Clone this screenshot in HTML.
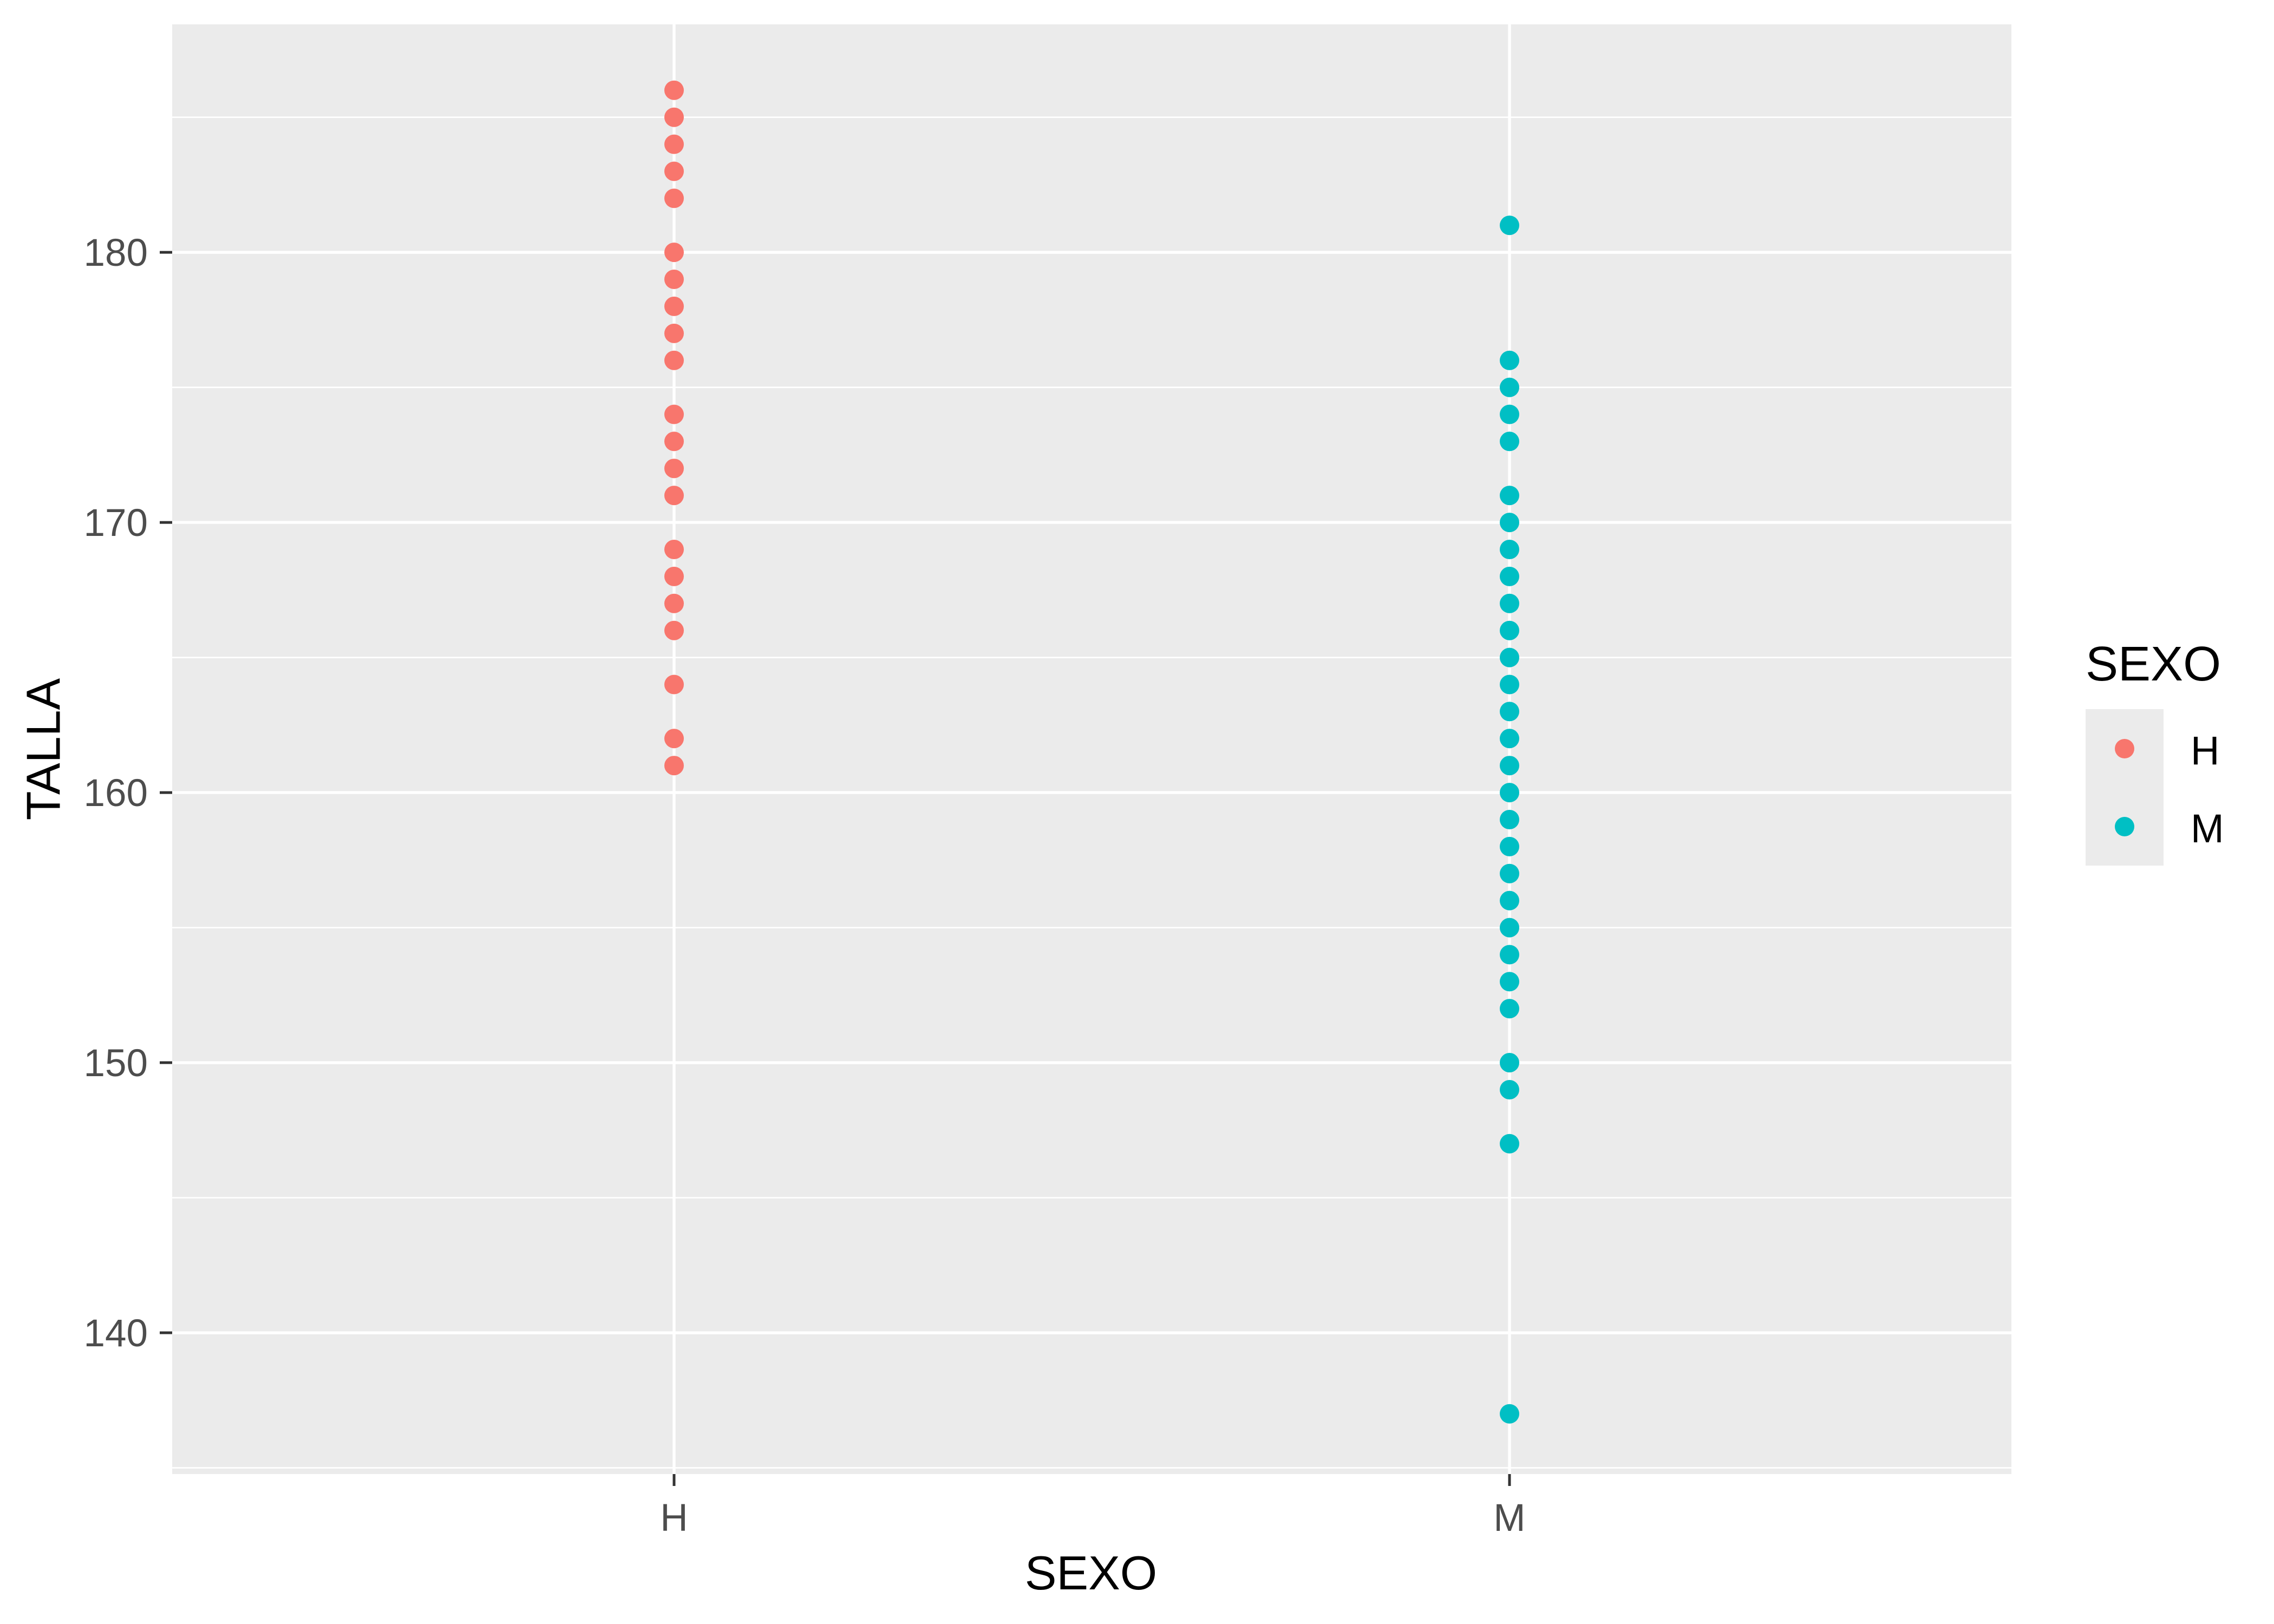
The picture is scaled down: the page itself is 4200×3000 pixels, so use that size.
<!DOCTYPE html>
<html><head><meta charset="utf-8"><style>
html,body{margin:0;padding:0;background:#fff;}
svg{display:block;font-family:"Liberation Sans",Arial,sans-serif;}
</style></head><body>
<svg id="chart" width="4200" height="3000" viewBox="0 0 4200 3000">
<rect x="0" y="0" width="4200" height="3000" fill="#fff"/>
<rect x="318" y="45" width="3397" height="2678" fill="#EBEBEB"/>
<g id="grid"></g>
<g id="points"></g>
<g id="axes"></g>
<text x="80" y="1384" transform="rotate(-90 80 1384)" text-anchor="middle" dominant-baseline="central" font-size="88" fill="#000">TALLA</text>
<text x="2015" y="2936" text-anchor="middle" font-size="88" fill="#000">SEXO</text>
<g>
<text x="3852" y="1257" font-size="90" fill="#000">SEXO</text>
<rect x="3852" y="1310" width="144" height="289" fill="#EBEBEB"/>
<circle cx="3924" cy="1383" r="18" fill="#F8766D"/>
<circle cx="3924" cy="1527" r="18" fill="#00BFC4"/>
<text x="4046" y="1412" font-size="74" fill="#000">H</text>
<text x="4046" y="1556" font-size="74" fill="#000">M</text>
</g>
</svg>
<script>
const categories = ["H", "M"];
const valuesH = [186,185,184,183,182,180,179,178,177,176,174,173,172,171,169,168,167,166,164,162,161];
const valuesM = [181,176,175,174,173,171,170,169,168,167,166,165,164,163,162,161,160,159,158,157,156,155,154,153,152,150,149,147,137];
const yTicks = [140,150,160,170,180];
const yMinor = [135,145,155,165,175,185];
const colors = ["#F8766D", "#00BFC4"];

const NS = "http://www.w3.org/2000/svg";
const pLeft = 318, pRight = 3715, pTop = 45, pBottom = 2723;
const yMin = 134.77, yMax = 188.44;
function yScale(v){ return pBottom - (v - yMin) / (yMax - yMin) * (pBottom - pTop); }
function xScale(c){ const i = categories.indexOf(c); return 1245 + i * (2788 - 1245); }
function mk(tag, attrs, parent){ const e = document.createElementNS(NS, tag); for (const k in attrs) e.setAttribute(k, attrs[k]); parent.appendChild(e); return e; }

const grid = document.getElementById('grid');
yMinor.forEach(v => {
  const l = mk('line', {x1:pLeft, x2:pRight, y1:yScale(v), y2:yScale(v), stroke:'#fff', 'stroke-width':2.7}, grid);
  
  
});
yTicks.forEach(v => {
  const l = mk('line', {x1:pLeft, x2:pRight, y1:yScale(v), y2:yScale(v), stroke:'#fff', 'stroke-width':5.4}, grid);
  
  
});
categories.forEach(c => {
  const l = mk('line', {x1:xScale(c), x2:xScale(c), y1:pTop, y2:pBottom, stroke:'#fff', 'stroke-width':5.4}, grid);
  
  
});

const pts = document.getElementById('points');
[valuesH, valuesM].forEach((arr, si) => {
  arr.forEach(v => {
    const c = mk('circle', {cx:xScale(categories[si]), cy:yScale(v), r:18, fill:colors[si]}, pts);
    
    
  });
});

const axes = document.getElementById('axes');
yTicks.forEach(v => {
  const t = mk('line', {x1:295, x2:pLeft, y1:yScale(v), y2:yScale(v), stroke:'#333', 'stroke-width':5}, axes);
  
  
  const lb = mk('text', {x:273, y:yScale(v) + 25, 'text-anchor':'end', 'font-size':71, fill:'#4D4D4D'}, axes);
  lb.textContent = v;
  
  
});
categories.forEach(c => {
  const t = mk('line', {x1:xScale(c), x2:xScale(c), y1:pBottom, y2:pBottom+22, stroke:'#333', 'stroke-width':5}, axes);
  
  
  const lb = mk('text', {x:xScale(c), y:2828, 'text-anchor':'middle', 'font-size':71, fill:'#4D4D4D'}, axes);
  lb.textContent = c;
  
  
});
</script>
</body></html>
